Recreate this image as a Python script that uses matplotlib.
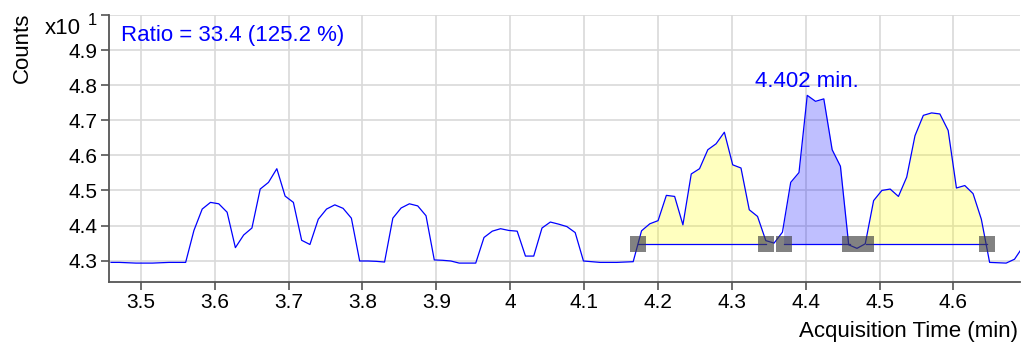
''' MRM chromatogram segment with integrated peaks (qualifier/target).
Re-draws the MassHunter style view: trace, baseline, integration marks.
'''

import numpy as np
import matplotlib
matplotlib.use("Agg")
import matplotlib.pyplot as plt
from matplotlib.ticker import FixedLocator, FuncFormatter

plt.rcParams["font.family"] = ["Liberation Sans", "DejaVu Sans"]

# acquisition time (min) and counts (x10^1)
TIME_MIN = [
    3.4598, 3.4710, 3.4822, 3.4935, 3.5047, 3.5159, 3.5271, 3.5383, 3.5495, 3.5608,
    3.5720, 3.5832, 3.5944, 3.6056, 3.6169, 3.6281, 3.6393, 3.6505, 3.6617, 3.6729,
    3.6842, 3.6954, 3.7066, 3.7178, 3.7290, 3.7403, 3.7515, 3.7627, 3.7739, 3.7851,
    3.7963, 3.8076, 3.8188, 3.8300, 3.8412, 3.8524, 3.8636, 3.8749, 3.8861, 3.8973,
    3.9085, 3.9197, 3.9310, 3.9422, 3.9534, 3.9646, 3.9758, 3.9870, 3.9983, 4.0095,
    4.0207, 4.0319, 4.0431, 4.0544, 4.0656, 4.0768, 4.0880, 4.0992, 4.1104, 4.1217,
    4.1329, 4.1441, 4.1553, 4.1665, 4.1778, 4.1890, 4.2002, 4.2114, 4.2226, 4.2338,
    4.2451, 4.2563, 4.2675, 4.2787, 4.2899, 4.3012, 4.3124, 4.3236, 4.3348, 4.3460,
    4.3572, 4.3685, 4.3797, 4.3909, 4.4021, 4.4133, 4.4245, 4.4358, 4.4470, 4.4582,
    4.4694, 4.4806, 4.4919, 4.5031, 4.5143, 4.5255, 4.5367, 4.5479, 4.5592, 4.5704,
    4.5816, 4.5928, 4.6040, 4.6153, 4.6265, 4.6377, 4.6489, 4.6601, 4.6713, 4.6826,
    4.6938,
]
COUNTS = [
    4.295, 4.295, 4.294, 4.293, 4.293, 4.293, 4.294, 4.295, 4.295, 4.295,
    4.386, 4.447, 4.466, 4.462, 4.438, 4.337, 4.373, 4.393, 4.504, 4.523,
    4.562, 4.484, 4.466, 4.358, 4.346, 4.418, 4.447, 4.459, 4.449, 4.421,
    4.299, 4.299, 4.298, 4.296, 4.421, 4.450, 4.462, 4.456, 4.428, 4.302,
    4.301, 4.299, 4.293, 4.293, 4.293, 4.366, 4.384, 4.391, 4.386, 4.384,
    4.313, 4.313, 4.393, 4.410, 4.404, 4.397, 4.380, 4.299, 4.297, 4.295,
    4.295, 4.295, 4.296, 4.297, 4.385, 4.405, 4.414, 4.486, 4.483, 4.402,
    4.547, 4.562, 4.616, 4.633, 4.666, 4.573, 4.564, 4.445, 4.426, 4.357,
    4.350, 4.381, 4.523, 4.551, 4.771, 4.754, 4.761, 4.616, 4.569, 4.345,
    4.335, 4.348, 4.471, 4.500, 4.504, 4.483, 4.538, 4.656, 4.714, 4.721,
    4.718, 4.671, 4.507, 4.514, 4.491, 4.418, 4.295, 4.294, 4.293, 4.304,
    4.339,
]

# integration windows (min) and the shared baseline level
PEAK_START = [4.1725, 4.3701, 4.4815]
PEAK_END   = [4.3461, 4.4598, 4.6448]
PEAK_IS_TARGET = [False, True, False]
BASELINE = 4.347

RATIO     = 33.4
RATIO_PCT = 125.2

X_TICKS = [3.5, 3.6, 3.7, 3.8, 3.9, 4.0, 4.1, 4.2, 4.3, 4.4, 4.5, 4.6]
Y_TICKS = [4.3, 4.4, 4.5, 4.6, 4.7, 4.8, 4.9, 5.0]

TRACE_BLUE  = "#0000ff"
AXIS_GRAY   = "#555555"
GRID_GRAY   = "#d9d9d9"


def plot_chromatogram():
    t = np.array(TIME_MIN)
    y = np.array(COUNTS)

    fig = plt.figure(figsize=(10.21, 3.45), dpi=100)
    ax = fig.add_axes([0.1065, 0.1835, 0.8925, 0.773])

    ax.set_xlim(3.4567, 4.690)
    ax.set_ylim(4.24, 5.0)

    ax.xaxis.set_major_locator(FixedLocator(X_TICKS))
    ax.xaxis.set_major_formatter(FuncFormatter(lambda v, p: f"{v:g}"))
    ax.yaxis.set_major_locator(FixedLocator(Y_TICKS))
    ax.yaxis.set_major_formatter(
        FuncFormatter(lambda v, p: "" if v > 4.95 else f"{v:.1f}"))

    ax.grid(True, color=GRID_GRAY, linewidth=1.2, zorder=0)
    ax.set_axisbelow(True)
    for side in ("top", "right"):
        ax.spines[side].set_visible(False)
    for side in ("left", "bottom"):
        ax.spines[side].set_color(AXIS_GRAY)
        ax.spines[side].set_linewidth(1.3)
    ax.tick_params(axis="both", direction="out", length=6, width=1.2,
                   color=AXIS_GRAY, labelsize=15, labelcolor="black", pad=2)

    # Integrated areas between trace and baseline
    for start, end, is_target in zip(PEAK_START, PEAK_END, PEAK_IS_TARGET):
        inside = (t > start) & (t < end)
        seg_t = np.concatenate([[start], t[inside], [end]])
        seg_y = np.concatenate([[np.interp(start, t, y)], y[inside],
                                [np.interp(end, t, y)]])
        fill = "#0000ff" if is_target else "#ffff00"
        ax.fill_between(seg_t, seg_y, BASELINE, color=fill, alpha=0.25,
                        linewidth=0, zorder=2)
        ax.plot([start, end], [BASELINE, BASELINE], color=TRACE_BLUE,
                linewidth=0.9, zorder=3)

    ax.plot(t, y, color=TRACE_BLUE, linewidth=0.9, zorder=4)

    # Start / end markers of each integration
    ax.plot(PEAK_START + PEAK_END, [BASELINE] * (len(PEAK_START) * 2),
            linestyle="none", marker="s", markersize=11.5,
            markerfacecolor="#404040", markeredgewidth=0, alpha=0.65,
            zorder=5)

    # Retention time label of the target peak
    tgt = PEAK_IS_TARGET.index(True)
    win = (t >= PEAK_START[tgt]) & (t <= PEAK_END[tgt])
    k = np.argmax(np.where(win, y, -np.inf))
    ax.annotate(f"{t[k]:.3f} min.", (t[k], y[k]), textcoords="offset points",
                xytext=(0, 6), ha="center", va="baseline", fontsize=16,
                color=TRACE_BLUE)

    ax.text(0.014, 0.925, f"Ratio = {RATIO} ({RATIO_PCT} %)",
            transform=ax.transAxes, fontsize=16, color=TRACE_BLUE,
            ha="left", va="center")

    # Axis titles, placed the MassHunter way
    fig.text(1018 / 1021, 1 - 331 / 345, "Acquisition Time (min)",
             ha="right", va="center", fontsize=16)
    fig.text(22 / 1021, 1 - 13 / 345, "Counts", rotation=90,
             ha="center", va="top", fontsize=16)
    fig.text(45 / 1021, 1 - 34 / 345, "x10", ha="left", va="baseline",
             fontsize=16)
    fig.text(88 / 1021, 1 - 25 / 345, "1", ha="left", va="baseline",
             fontsize=12)

    fig.savefig("out.png", dpi=100)


def main():
    plot_chromatogram()


if __name__ == "__main__":
    main()
